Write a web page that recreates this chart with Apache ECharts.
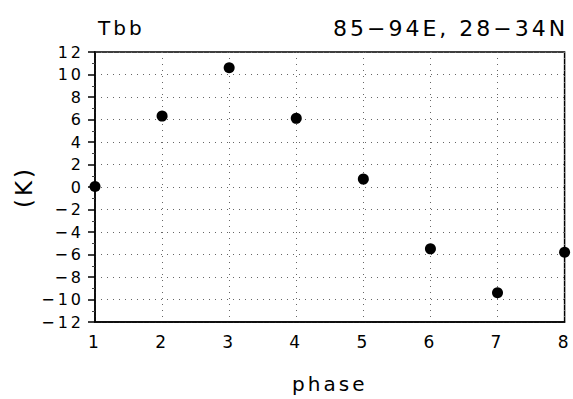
<!DOCTYPE html>
<html>
<head>
<meta charset="utf-8">
<script src="https://cdn.jsdelivr.net/npm/echarts@6/dist/echarts.min.js"></script>
<style>
  html, body { margin: 0; padding: 0; background: #fff; }
  #chart { width: 573px; height: 399px; }
  /* GrADS-style wide lettering */
  #chart text { letter-spacing: 3px; }
</style>
</head>
<body>
<div id="chart"></div>
<script>
// values
const phases = [1, 2, 3, 4, 5, 6, 7, 8]
const tbbAnomaly = [0.05, 6.3, 10.6, 6.1, 0.7, -5.5, -9.4, -5.8]
const yTicks = [-12, -10, -8, -6, -4, -2, 0, 2, 4, 6, 8, 10, 12]

const FONT = 'DejaVu Sans'
const dotted = { type: [1, 5], color: '#666', width: 1 }
const bigText = { fontFamily: FONT, fontSize: 20, fontWeight: 'normal', color: '#000' }

const chart = echarts.init(document.getElementById('chart'), null, { renderer: 'svg' })

const option = {
    animation: false,
    backgroundColor: '#fff',
    textStyle: { fontFamily: FONT, color: '#000' },
    title: [
        { text: 'Tbb', left: 93, top: 13, textStyle: bigText },
        {
            text: '85\u221294E, 28\u221234N',
            left: 328,
            top: 12,
            textStyle: { ...bigText, fontSize: 22 },
        },
    ],
    grid: {
        left: 95,
        right: 6,
        top: 52,
        bottom: 77,
        show: true,
        borderColor: '#000',
        borderWidth: 1.5,
    },
    xAxis: {
        type: 'value',
        min: phases[0],
        max: phases[phases.length - 1],
        interval: 1,
        name: 'phase',
        nameLocation: 'middle',
        nameGap: 52,
        nameTextStyle: bigText,
        axisLine: { show: true, onZero: false, lineStyle: { color: '#000', width: 1.5 } },
        axisTick: { show: false },
        axisLabel: { fontFamily: FONT, fontSize: 17, color: '#000', margin: 11, hideOverlap: false },
        splitLine: { show: true, lineStyle: dotted },
    },
    yAxis: {
        type: 'value',
        min: yTicks[0],
        max: yTicks[yTicks.length - 1],
        interval: 2,
        name: '(K)',
        nameLocation: 'middle',
        nameGap: 60,
        nameRotate: 90,
        nameTextStyle: { fontFamily: FONT, fontSize: 23, color: '#000' },
        axisLine: { show: true, onZero: false, lineStyle: { color: '#000', width: 1.5 } },
        axisTick: { show: true, length: 7, lineStyle: { color: '#000', width: 1.5 } },
        minorTick: { show: true, splitNumber: 2, length: 3, lineStyle: { color: '#444' } },
        axisLabel: {
            fontFamily: FONT,
            fontSize: 16,
            color: '#000',
            margin: 11,
            hideOverlap: false,
            formatter: (v) => (v < 0 ? '\u2212' + Math.abs(v) : String(v)),
        },
        splitLine: { show: true, lineStyle: dotted },
    },
    series: [
        {
            type: 'scatter',
            data: phases.map((p, i) => [p, tbbAnomaly[i]]),
            symbol: 'circle',
            symbolSize: 11,
            clip: false,
            itemStyle: { color: '#000', opacity: 1 },
        },
    ],
}

chart.setOption(option)
</script>
</body>
</html>
